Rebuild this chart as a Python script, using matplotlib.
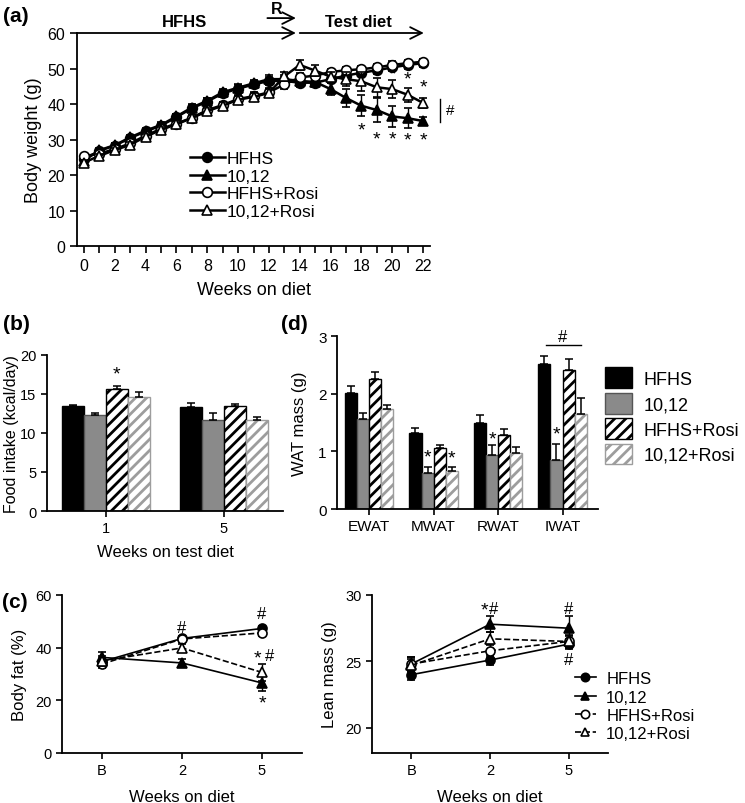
import numpy as np
import matplotlib.pyplot as plt
from matplotlib.lines import Line2D

plt.rcParams['font.family'] = ['Liberation Sans', 'DejaVu Sans']
plt.rcParams['hatch.linewidth'] = 2.0
plt.rcParams['axes.linewidth'] = 1.3
plt.rcParams['xtick.major.width'] = 1.2
plt.rcParams['ytick.major.width'] = 1.2
plt.rcParams['xtick.minor.width'] = 1.2
plt.rcParams['xtick.direction'] = 'out'
plt.rcParams['ytick.direction'] = 'out'

# ── Daten ────────────────────────────────────────────────────
groups = ['HFHS', '10,12', 'HFHS+Rosi', '10,12+Rosi']

# (a) Körpergewicht über 22 Wochen
weeks = np.arange(23)
bw_hfhs = [24.5, 26.8, 28.3, 30.4, 32.3, 33.9, 36.3, 38.8, 40.7, 43.0, 44.3, 45.5,
           46.5, 46.5, 46.0, 46.0, 47.0, 48.0, 48.8, 49.5, 50.3, 51.0, 51.5]
bw_1012 = [24.0, 27.0, 28.4, 30.6, 32.5, 34.1, 36.5, 39.0, 40.9, 43.3, 44.6, 45.8,
           47.0, 47.0, 46.5, 46.2, 44.2, 41.7, 39.5, 38.3, 36.5, 36.0, 35.2]
bw_hfhs_rosi = [25.3, 26.0, 27.3, 28.9, 31.1, 33.0, 34.5, 36.1, 38.3, 39.7, 41.4, 42.2,
                43.3, 45.5, 47.5, 48.0, 49.0, 49.5, 49.8, 50.3, 51.0, 51.5, 51.9]
bw_1012_rosi = [23.5, 25.4, 27.0, 28.5, 30.8, 32.7, 34.3, 36.0, 38.0, 39.5, 41.2, 42.0,
                43.1, 47.8, 51.0, 49.4, 47.7, 47.0, 46.4, 44.7, 44.2, 42.6, 40.3]
bw_err_hfhs = [0.5, 0.6, 0.6, 0.7, 0.7, 0.8, 0.8, 0.9, 0.9, 1.0, 1.0, 1.0,
               1.1, 1.1, 1.1, 1.1, 1.0, 1.0, 1.0, 1.0, 1.0, 1.0, 1.0]
bw_err_1012 = [0.5, 0.6, 0.6, 0.7, 0.7, 0.8, 0.8, 0.9, 0.9, 1.0, 1.0, 1.0,
               1.1, 1.1, 1.2, 1.2, 1.6, 2.6, 3.0, 3.4, 3.0, 2.8, 1.0]
bw_err_hfhs_rosi = [0.6, 0.6, 0.7, 0.7, 0.8, 0.8, 0.9, 0.9, 1.0, 1.0, 1.1, 1.1,
                    1.1, 1.2, 1.2, 1.1, 1.0, 1.0, 1.0, 1.0, 1.0, 0.9, 0.9]
bw_err_1012_rosi = [0.6, 0.6, 0.7, 0.7, 0.8, 0.8, 0.9, 0.9, 1.0, 1.0, 1.1, 1.1,
                    1.1, 1.2, 1.5, 1.6, 1.2, 2.0, 2.6, 2.7, 2.5, 2.0, 1.4]
star_low_weeks = [18, 19, 20, 21, 22]
star_low_y = [32.7, 30.2, 30.2, 29.9, 29.9]
star_high_weeks = [20, 21, 22]
star_high_y = [48.4, 47.0, 44.7]

# (b) Futteraufnahme
fi_labels = ['1', '5']
fi_vals = [[13.4, 13.3], [12.3, 11.7], [15.7, 13.5], [14.6, 11.7]]
fi_err = [[0.25, 0.5], [0.3, 0.9], [0.3, 0.2], [0.6, 0.3]]

# (d) WAT-Masse
wat_labels = ['EWAT', 'MWAT', 'RWAT', 'IWAT']
wat_vals = [[2.01, 1.32, 1.49, 2.51], [1.56, 0.62, 0.93, 0.85],
            [2.26, 1.05, 1.28, 2.41], [1.74, 0.66, 0.97, 1.64]]
wat_err = [[0.12, 0.09, 0.14, 0.14], [0.11, 0.10, 0.18, 0.28],
           [0.12, 0.06, 0.10, 0.19], [0.07, 0.06, 0.10, 0.28]]

# (c) Körperfett und Magermasse
time_labels = ['B', '2', '5']
bf_vals = [[34.7, 43.5, 47.3], [36.3, 34.2, 26.6], [33.8, 43.3, 45.6], [35.0, 39.9, 30.6]]
bf_err = [[1.5, 1.0, 1.0], [2.0, 1.4, 3.2], [1.5, 1.0, 1.0], [1.8, 1.5, 3.2]]
lm_vals = [[24.0, 25.1, 26.3], [24.8, 27.8, 27.5], [24.8, 25.8, 26.5], [24.7, 26.7, 26.5]]
lm_err = [[0.4, 0.4, 0.4], [0.5, 0.6, 0.95], [0.5, 0.5, 0.4], [0.5, 0.5, 0.5]]

# ── Figur ────────────────────────────────────────────────────
W, H = 745, 804
fig = plt.figure(figsize=(W / 100, H / 100), dpi=100)


def box(l, r, t, b):
    return fig.add_axes([l / W, 1 - b / H, (r - l) / W, (b - t) / H])


def clean(ax):
    for s in ['top', 'right']:
        ax.spines[s].set_visible(False)


markers = ['o', '^', 'o', '^']
faces = ['black', 'black', 'white', 'white']


def proxies(lw, ms, styles):
    return [Line2D([], [], color='black', lw=lw, ls=styles[i], marker=markers[i], ms=ms,
                   mfc=faces[i], mec='black', mew=1.2) for i in range(4)]


# ── (a) ──────────────────────────────────────────────────────
ax = box(77, 430, 34, 247)
clean(ax)
bw_all = [bw_hfhs, bw_1012, bw_hfhs_rosi, bw_1012_rosi]
bw_errs = [bw_err_hfhs, bw_err_1012, bw_err_hfhs_rosi, bw_err_1012_rosi]
for i in range(4):
    ax.errorbar(weeks, bw_all[i], yerr=bw_errs[i], color='black', lw=1.8,
                marker=markers[i], ms=7, mfc=faces[i], mec='black', mew=1.2,
                capsize=3, elinewidth=1, capthick=1, zorder=3 + i)
ax.set_xlim(-0.45, 22.45)
ax.set_ylim(0, 60)
ax.set_xticks(np.arange(0, 23, 2))
ax.set_xticks(np.arange(1, 23, 2), minor=True)
ax.tick_params(which='both', length=5, labelsize=11.5)
ax.set_yticks(np.arange(0, 61, 10))
ax.set_xlabel('Weeks on diet', fontsize=13, labelpad=6)
ax.set_ylabel('Body weight (g)', fontsize=13, labelpad=4)
for x, y in zip(star_low_weeks, star_low_y):
    ax.text(x, y, '*', ha='center', va='center', fontsize=14)
for x, y in zip(star_high_weeks, star_high_y):
    ax.text(x, y, '*', ha='center', va='center', fontsize=14)
ax.plot([23.1, 23.1], [34.9, 41.4], color='black', lw=1, clip_on=False)
ax.text(23.5, 38.2, '#', ha='left', va='center', fontsize=11)

arrow = dict(arrowstyle='->,head_length=0.7,head_width=0.35', lw=1.3, color='black',
             shrinkA=0, shrinkB=0, mutation_scale=12)
ax.annotate('', xy=(13.75, 60), xytext=(-0.45, 60), arrowprops=arrow, annotation_clip=False)
ax.annotate('', xy=(22.05, 60), xytext=(14.0, 60), arrowprops=arrow, annotation_clip=False)
ax.annotate('', xy=(13.75, 64.2), xytext=(11.9, 64.2), arrowprops=arrow, annotation_clip=False)
ax.text(6.5, 63.1, 'HFHS', ha='center', va='center', fontsize=12, weight='bold')
ax.text(17.8, 63.1, 'Test diet', ha='center', va='center', fontsize=12, weight='bold')
ax.text(12.5, 67.0, 'R', ha='center', va='center', fontsize=11.5, weight='bold')
ax.legend(proxies(1.8, 7, ['-'] * 4), groups, loc='upper left', bbox_to_anchor=(0.3, 0.48),
          frameon=False, fontsize=12.5, handlelength=2.0, handletextpad=0.1,
          labelspacing=0.15, borderaxespad=0)

# Balkenstile
bar_styles = [dict(color='black', edgecolor='black'),
              dict(color='#8a8a8a', edgecolor='#555555'),
              dict(color='white', edgecolor='black', hatch='///'),
              dict(color='white', edgecolor='#9d9d9d', hatch='///')]


def bars(ax, vals, errs, width):
    n = len(vals[0])
    handles = []
    for i in range(4):
        xs = np.arange(n) + (i - 1.5) * width
        st = dict(bar_styles[i])
        fc = st.pop('color')
        b = ax.bar(xs, vals[i], width, facecolor=fc, linewidth=1, label=groups[i], **st)
        ax.errorbar(xs, vals[i], yerr=[np.zeros(n), errs[i]], fmt='none', ecolor='black',
                    elinewidth=1.1, capsize=3, capthick=1.1)
        handles.append(b)
    return handles


# ── (b) ──────────────────────────────────────────────────────
ax = box(47, 283, 356, 512)
clean(ax)
wb = 0.185
bars(ax, fi_vals, fi_err, wb)
ax.set_xlim(-0.5, 1.5)
ax.set_ylim(0, 20)
ax.set_yticks([0, 5, 10, 15, 20])
ax.set_xticks([0, 1])
ax.set_xticklabels(fi_labels)
ax.tick_params(length=4, labelsize=10.5)
ax.set_xlabel('Weeks on test diet', fontsize=12, labelpad=6)
ax.set_ylabel('Food intake (kcal/day)', fontsize=11.5, labelpad=1)
ax.text(0.5 * wb, 17.6, '*', ha='center', va='center', fontsize=14)

# ── (d) ──────────────────────────────────────────────────────
ax = box(337, 598, 337, 510)
clean(ax)
wd = 0.188
hd = bars(ax, wat_vals, wat_err, wd)
ax.set_xlim(-0.5, 3.55)
ax.set_ylim(0, 3)
ax.set_yticks([0, 1, 2, 3])
ax.set_xticks(np.arange(4))
ax.set_xticklabels(wat_labels)
ax.tick_params(length=4, labelsize=11)
ax.set_ylabel('WAT mass (g)', fontsize=12, labelpad=8)
ax.text(1 - 0.5 * wd, 0.91, '*', ha='center', va='center', fontsize=14)
ax.text(1 + 1.5 * wd, 0.89, '*', ha='center', va='center', fontsize=14)
ax.text(2 - 0.5 * wd, 1.22, '*', ha='center', va='center', fontsize=14)
ax.text(3 - 0.5 * wd, 1.30, '*', ha='center', va='center', fontsize=14)
ax.plot([2.74, 3.29], [2.84, 2.84], color='black', lw=1, clip_on=False)
ax.text(3.0, 3.0, '#', ha='center', va='center', fontsize=12)
ax.legend(hd, groups, loc='upper left', bbox_to_anchor=(1.0, 0.86), frameon=False,
          fontsize=13, handlelength=1.5, handleheight=1.4, handletextpad=0.6,
          labelspacing=0.25, borderaxespad=0)

# ── (c) ──────────────────────────────────────────────────────
lstyles = ['-', '-', '--', '--']


def lines(ax, vals, errs):
    for i in range(4):
        ax.errorbar(np.arange(3), vals[i], yerr=errs[i], color='black', lw=1.2,
                    ls=lstyles[i], marker=markers[i], ms=6.5, mfc=faces[i], mec='black',
                    mew=1.2, capsize=3, elinewidth=1, capthick=1, zorder=3 + i)
    ax.set_xlim(-0.5, 2.5)
    ax.set_xticks(np.arange(3))
    ax.set_xticklabels(time_labels)
    ax.tick_params(length=4, labelsize=10.5)
    ax.set_xlabel('Weeks on diet', fontsize=12, labelpad=8)


ax = box(62, 302, 596, 754)
clean(ax)
lines(ax, bf_vals, bf_err)
ax.set_ylim(0, 60)
ax.set_yticks([0, 20, 40, 60])
ax.set_ylabel('Body fat (%)', fontsize=12, labelpad=6)
ax.text(1, 47.7, '#', ha='center', va='center', fontsize=12)
ax.text(2, 52.8, '#', ha='center', va='center', fontsize=12)
ax.text(1.945, 36.2, '*', ha='center', va='center', fontsize=14)
ax.text(2.1, 37.0, '#', ha='center', va='center', fontsize=12)
ax.text(2, 19.0, '*', ha='center', va='center', fontsize=14)

ax = box(372, 608, 596, 754)
clean(ax)
lines(ax, lm_vals, lm_err)
ax.set_ylim(18.1, 30)
ax.set_yticks([20, 25, 30])
ax.set_ylabel('Lean mass (g)', fontsize=12, labelpad=6)
ax.text(0.93, 28.9, '*', ha='center', va='center', fontsize=14)
ax.text(1.05, 29.0, '#', ha='center', va='center', fontsize=12)
ax.text(2, 29.0, '#', ha='center', va='center', fontsize=12)
ax.text(2, 25.15, '#', ha='center', va='center', fontsize=12)
ax.legend(proxies(1.2, 6, lstyles), groups, loc='upper left', bbox_to_anchor=(0.83, 0.56),
          frameon=False, fontsize=12, handlelength=1.3, handletextpad=0.6,
          labelspacing=0.2, borderaxespad=0)

# Panelbeschriftungen
for lab, x, y in [('(a)', 3, 16), ('(b)', 3, 325), ('(d)', 281, 325), ('(c)', 2, 603)]:
    fig.text(x / W, 1 - y / H, lab, ha='left', va='center', fontsize=15, weight='bold')

fig.savefig('out.png', dpi=100)
